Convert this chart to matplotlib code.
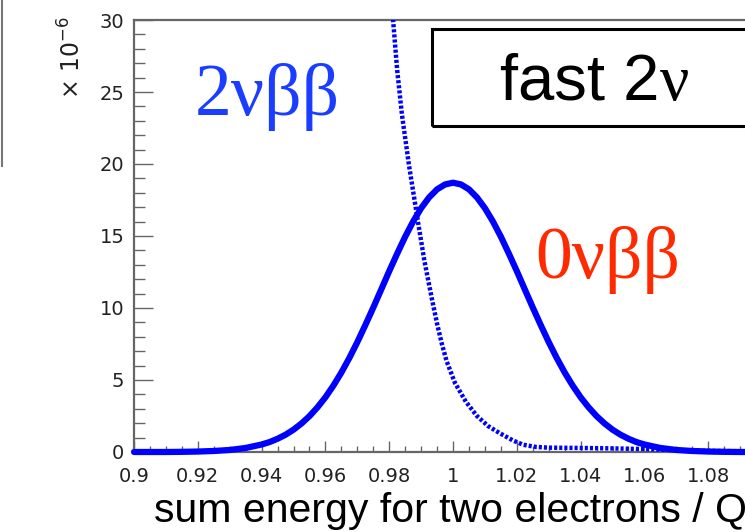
import matplotlib
matplotlib.use("Agg")
import matplotlib.pyplot as plt
from matplotlib.lines import Line2D
from matplotlib.patches import Rectangle

# sum energy / Q
energy_0nu = [0.900, 0.910, 0.915, 0.920, 0.925, 0.930, 0.935, 0.940, 0.9425, 0.945, 0.9475,
              0.950, 0.9525, 0.955, 0.9575, 0.960, 0.9625, 0.965, 0.9675, 0.970, 0.9725,
              0.975, 0.9775, 0.980, 0.9825, 0.985, 0.9875, 0.990, 0.9925, 0.995, 0.9975,
              1.000, 1.0025, 1.005, 1.0075, 1.010, 1.0125, 1.015, 1.0175, 1.020, 1.0225,
              1.025, 1.0275, 1.030, 1.0325, 1.035, 1.0375, 1.040, 1.0425, 1.045, 1.0475,
              1.050, 1.0525, 1.055, 1.0575, 1.060, 1.065, 1.070, 1.075, 1.080, 1.085,
              1.090, 1.100]
counts_0nu = [0.0, 0.0, 0.01, 0.03, 0.07, 0.14, 0.28, 0.52, 0.69, 0.92, 1.20,
              1.55, 1.98, 2.49, 3.10, 3.80, 4.61, 5.52, 6.53, 7.63, 8.81,
              10.03, 11.29, 12.56, 13.78, 14.95, 16.01, 16.93, 17.68, 18.24, 18.58,
              18.70, 18.58, 18.24, 17.68, 16.93, 16.01, 14.95, 13.78, 12.56, 11.29,
              10.03, 8.81, 7.63, 6.53, 5.52, 4.61, 3.80, 3.10, 2.49, 1.98,
              1.55, 1.20, 0.92, 0.69, 0.52, 0.28, 0.14, 0.07, 0.03, 0.01,
              0.0, 0.0]

# fast 2nu tail (dashed)
energy_2nu = [0.9795, 0.9812, 0.9825, 0.9840, 0.9862, 0.9880, 0.9890, 0.9910, 0.9934,
              0.9950, 0.9965, 0.9980, 1.0006, 1.0040, 1.0075, 1.0110, 1.0147, 1.0188,
              1.0220, 1.0260, 1.0300, 1.0400, 1.0500, 1.0600, 1.0700, 1.0800, 1.0900,
              1.1000]
counts_2nu = [32.0, 30.0, 26.5, 23.4, 19.9, 17.4, 16.0, 13.3, 10.6,
              8.9, 7.5, 6.3, 4.8, 3.5, 2.5, 1.8, 1.3, 0.8,
              0.5, 0.35, 0.30, 0.28, 0.25, 0.20, 0.12, 0.08, 0.05,
              0.03]

x_ticks = [0.90, 0.92, 0.94, 0.96, 0.98, 1.00, 1.02, 1.04, 1.06, 1.08, 1.10]
x_tick_labels = ["0.9", "0.92", "0.94", "0.96", "0.98", "1", "1.02", "1.04", "1.06", "1.08", ""]
y_ticks = [0, 5, 10, 15, 20, 25, 30]

BLUE = "#0000ff"
AXIS_GREY = "#666666"
SANS = "Liberation Sans"
SERIF = "Liberation Serif"

fig = plt.figure(figsize=(7.45, 5.32), dpi=100)
ax = fig.add_axes([0.1799, 0.1504, 0.8564, 0.812])

ax.plot(energy_0nu, counts_0nu, color=BLUE, lw=4.5, solid_capstyle="round",
        solid_joinstyle="round", zorder=3, clip_on=False)
ax.plot(energy_2nu, counts_2nu, color=BLUE, lw=3.2, linestyle=(0, (0.7, 0.45)), zorder=3)

ax.set_xlim(0.9, 1.1)
ax.set_ylim(0, 30)

ax.set_xticks(x_ticks)
ax.set_xticklabels(x_tick_labels)
ax.set_xticks([0.9 + 0.005 * i for i in range(41)], minor=True)
ax.set_yticks(y_ticks)
ax.set_yticks(list(range(31)), minor=True)

for spine in ax.spines.values():
    spine.set_color(AXIS_GREY)
    spine.set_linewidth(1.6)

ax.tick_params(axis="x", which="major", direction="in", length=8, width=1, color=AXIS_GREY,
               pad=11, labelsize=14, labelcolor="#222222")
ax.tick_params(axis="x", which="minor", direction="in", length=4.3, width=1, color=AXIS_GREY)
ax.tick_params(axis="y", which="major", direction="in", length=14, width=1, color=AXIS_GREY,
               pad=7, labelsize=14, labelcolor="#222222")
ax.tick_params(axis="y", which="minor", direction="in", length=8, width=1, color=AXIS_GREY)
for lab in ax.get_xticklabels() + ax.get_yticklabels():
    lab.set_fontfamily("DejaVu Sans")

# annotations
fig.text(195 / 745, 1 - 115 / 532, "2νββ", color="#1a3dff", fontsize=53, family=SERIF, va="baseline")
fig.text(535 / 745, 1 - 278 / 532, "0νββ", color="#ff2a00", fontsize=53, family=SERIF, va="baseline")

fig.patches.append(Rectangle((432 / 745, 1 - 126 / 532), 0.5, 97 / 532, transform=fig.transFigure,
                             fill=False, edgecolor="black", lw=2.2, zorder=5))
fig.text(500 / 745, 1 - 100 / 532, "fast 2", fontsize=47, family=SANS, va="baseline")
fig.text(660 / 745, 1 - 100 / 532, "ν", fontsize=47, family=SERIF, va="baseline")

fig.text(72 / 745, 1 - 16 / 532, r"× 10$^{-6}$", fontsize=17, family="DejaVu Sans", color="#222222",
         rotation=90, ha="center", va="top")
fig.text(450 / 745, 10 / 532, "sum energy for two electrons / Q", fontsize=29.5, family=SANS,
         ha="center", va="baseline")

# slide frame residue at the left edge
fig.lines.append(Line2D([1.5 / 745, 1.5 / 745], [1, 1 - 166 / 532], transform=fig.transFigure,
                        color="#777777", lw=1.5))

fig.savefig("out.png", dpi=100)
